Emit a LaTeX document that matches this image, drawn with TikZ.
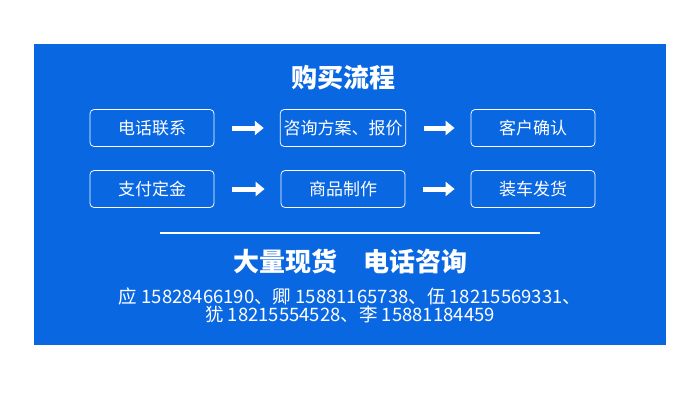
\documentclass[tikz,border=0pt]{standalone}
\usepackage{fontspec}
\setmainfont{Noto Sans CJK SC}
\usetikzlibrary{positioning,arrows.meta}
\definecolor{bannerblue}{RGB}{10,103,226}
\tikzset{
  stepbox/.style={draw=white, rounded corners=4pt, minimum width=124pt, minimum height=37pt, text=white, font=\fontsize{17}{17}\selectfont, line width=0.8pt},
  flowarrow/.style={white, line width=5pt, -{Triangle[length=9pt,width=14pt]}}
}
\begin{document}
\begin{tikzpicture}[x=1pt,y=-1pt]
  \useasboundingbox (0,0) rectangle (700,415);
  \fill[bannerblue] (34,44) rectangle (666,345);

  \node[text=white, font=\bfseries\fontsize{26}{26}\selectfont] (title) at (343,78) {购买流程};

  % first row
  \node[stepbox] (call) at (152,128) {电话联系};
  \node[stepbox] (plan) at (343,128) {咨询方案、报价};
  \node[stepbox] (confirm) at (533,128) {客户确认};
  % second row
  \node[stepbox] (deposit) at (152,189) {支付定金};
  \node[stepbox] (make) at (343,189) {商品制作};
  \node[stepbox] (ship) at (533,189) {装车发货};

  \draw[flowarrow] ([xshift=18pt]call.east) -- ([xshift=-16pt]plan.west);
  \draw[flowarrow] ([xshift=18pt]plan.east) -- ([xshift=-16pt]confirm.west);
  \draw[flowarrow] ([xshift=18pt]deposit.east) -- ([xshift=-16pt]make.west);
  \draw[flowarrow] ([xshift=18pt]make.east) -- ([xshift=-16pt]ship.west);

  \coordinate (ruleL) at (160,233);
  \coordinate (ruleR) at (540,233);
  \draw[white, line width=1.2pt] (ruleL) -- (ruleR);

  \node[text=white, font=\bfseries\fontsize{26}{26}\selectfont] (hotline) at (350,262) {大量现货\quad 电话咨询};
  \node[text=white, font=\fontsize{18.5}{18}\selectfont, align=center] (phones) at (350,305)
    {应 15828466190、卿 15881165738、伍 18215569331、\\犹 18215554528、李 15881184459};
\end{tikzpicture}
\end{document}
